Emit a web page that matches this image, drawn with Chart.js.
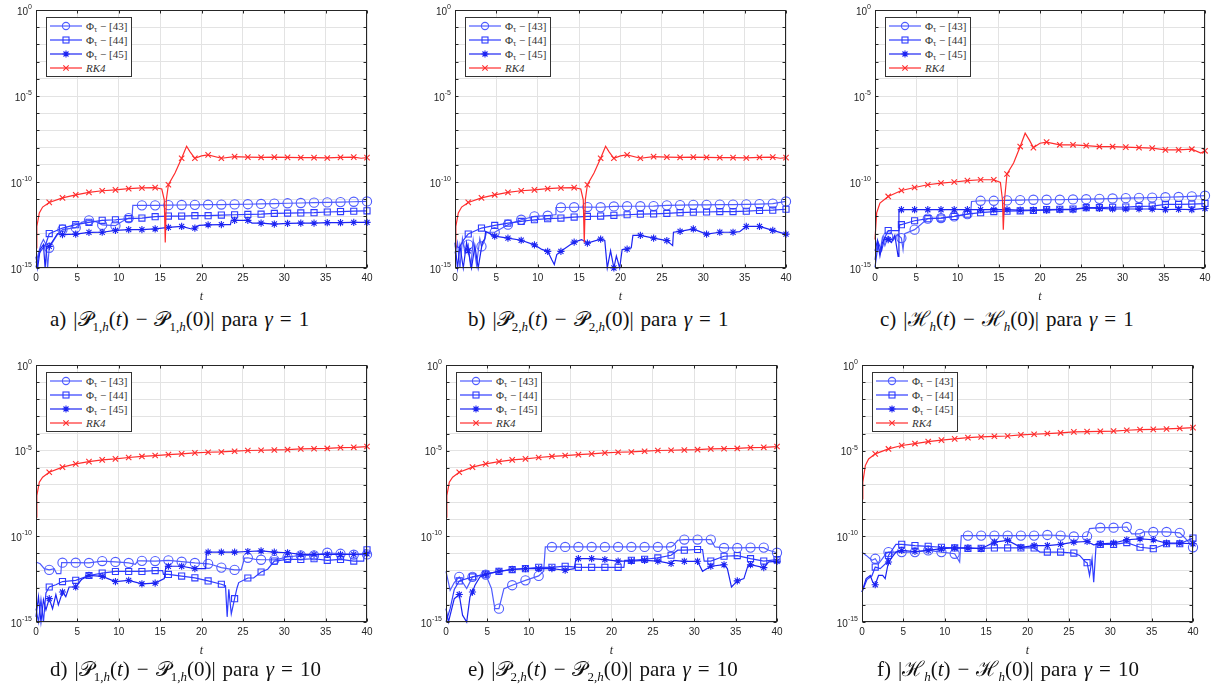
<!DOCTYPE html>
<html lang="es">
<head>
<meta charset="UTF-8">
<title>Errores de invariantes</title>
<script src="https://cdn.jsdelivr.net/npm/chart.js"></script>
<style>
body {
  margin: 0;
  width: 1215px;
  height: 690px;
  position: relative;
  overflow: hidden;
  background: #fff;
  font-family: 'Liberation Sans', Arial, sans-serif;
}
.panel { position: absolute; }
.legend {
  position: absolute;
  border: 1px solid #333;
  background: #fff;
  padding: 1px 4px 1px 2px;
  font-family: 'Liberation Serif', 'DejaVu Serif', serif;
  font-size: 11px;
  color: #333;
}
.legend .row { display: flex; align-items: center; height: 14px; white-space: nowrap; }
.legend svg { margin-right: 3px; }
.legend sub { font-size: 8px; vertical-align: -2px; line-height: 0; }
.caption {
  position: absolute;
  font-family: 'Liberation Serif', 'DejaVu Serif', serif;
  font-size: 21px;
  line-height: 24px;
  white-space: nowrap;
  color: #111;
}
.caption sub { font-size: 13px; line-height: 0; }
.caption .sp { display: inline-block; width: 7px; }
</style>
</head>
<body>

<script>
// ticks
const xTicks = [0, 5, 10, 15, 20, 25, 30, 35, 40];
const yLabelExps = [0, -5, -10, -15];
const markerStep = 1.6;

// ---- gamma = 1 ----
const rk4_P_g1 = [[0,1.45e-14],[0.1,2.6e-13],[0.4,1.6e-12],[0.8,3.5e-12],[1.6,6.5e-12],[3.2,1.2e-11],[4.8,1.8e-11],[6.4,2.5e-11],[8,3.1e-11],[9.6,3.5e-11],[11.2,4.1e-11],[12.8,4.5e-11],[14.4,4.7e-11],[15.2,3.9e-11],[15.5,9.3e-12],[15.62,3e-14],[15.75,9.3e-12],[16,6.9e-11],[16.8,3.3e-10],[17.6,2.4e-9],[18.2,1.2e-8],[18.6,5.9e-9],[19.2,2.4e-9],[20,3.3e-9],[20.8,3.8e-9],[22.4,2.4e-9],[24,3e-9],[25.6,2.8e-9],[27.2,2.7e-9],[28.8,2.8e-9],[30.4,2.7e-9],[32,2.6e-9],[33.6,2.6e-9],[35.2,2.5e-9],[36.8,2.7e-9],[38.4,2.8e-9],[39.3,2.4e-9],[40,2.6e-9]];

const a_phi43 = [[0,2e-15],[0.3,7.4e-15],[0.6,2.3e-14],[0.9,4.5e-14],[1.2,2.3e-14],[1.4,1e-15],[1.6,1.5e-14],[2.2,4.5e-14],[2.6,9e-14],[3.2,1.7e-13],[4.8,2.2e-13],[5.5,4.5e-13],[6.4,5.9e-13],[7.2,5e-13],[8,3.2e-13],[9.6,2.9e-13],[10.4,5.1e-13],[11.2,8e-13],[11.6,8e-13],[11.7,4.4e-12],[12.8,4.4e-12],[14.4,4.4e-12],[16,4.5e-12],[17.6,4.6e-12],[19.2,4.7e-12],[20.8,4.8e-12],[22.4,4.9e-12],[24,5e-12],[25.6,5.1e-12],[27.2,5.3e-12],[28.8,5.5e-12],[30.4,5.8e-12],[32,6e-12],[33.6,6.3e-12],[35.2,6.5e-12],[36.8,6.8e-12],[38.4,7.1e-12],[40,7.4e-12]];
const a_phi44 = [[0,1.1e-15],[0.4,7.4e-15],[0.8,1.4e-14],[1.2,2.6e-14],[1.6,1e-13],[3.2,2.1e-13],[4.8,3.3e-13],[6.4,4.5e-13],[8,5.9e-13],[9.6,6.4e-13],[11.2,7.4e-13],[12.8,8e-13],[14.4,9.6e-13],[16,1.05e-12],[17.6,1.05e-12],[19.2,1.1e-12],[20.8,1.1e-12],[22.4,1.2e-12],[24,1.25e-12],[25.6,1.3e-12],[27.2,1.35e-12],[28.8,1.5e-12],[30.4,1.55e-12],[32,1.6e-12],[33.6,1.65e-12],[35.2,1.8e-12],[36.8,1.9e-12],[38.4,2e-12],[40,2.1e-12]];
const a_phi45 = [[0,4.5e-15],[0.2,1e-15],[0.5,1.2e-14],[0.9,2.3e-14],[1.1,1e-15],[1.3,1.8e-14],[1.6,1.8e-14],[2.2,5e-14],[2.6,1e-13],[3.2,8.7e-14],[4.8,9.3e-14],[6.4,1.17e-13],[8,1.2e-13],[9.6,1.55e-13],[11.2,1.7e-13],[12.8,1.7e-13],[14.4,1.86e-13],[16,2.3e-13],[17.6,2.6e-13],[18.8,1.86e-13],[19.2,2.1e-13],[19.7,3e-13],[20.8,3.2e-13],[22.4,3.3e-13],[23.5,3.3e-13],[23.6,5.9e-13],[24,5.9e-13],[25.6,5.9e-13],[26.1,4.1e-13],[27.2,4.1e-13],[28.8,3.6e-13],[30.4,3.9e-13],[32,4.1e-13],[33.6,4.1e-13],[35.2,4.3e-13],[36.8,4.3e-13],[38.4,4.5e-13],[40,4.5e-13]];

const b_phi43 = [[0,7e-15],[0.3,3e-14],[0.6,1e-15],[0.9,5e-14],[1.2,8e-15],[1.6,2.3e-14],[1.9,1e-15],[2.2,4e-14],[2.6,1.5e-15],[3.0,5e-14],[3.2,1.8e-14],[3.5,3e-14],[3.8,1.2e-13],[4.8,1.2e-13],[6.4,3.3e-13],[8,6.4e-13],[9.6,1e-12],[11.2,1.1e-12],[12.1,1.25e-12],[12.2,3.3e-12],[12.8,3.3e-12],[14.4,3.4e-12],[16,3.5e-12],[17.6,3.4e-12],[19.2,3.8e-12],[20.8,3.9e-12],[22.4,3.9e-12],[24,4e-12],[25.6,4.4e-12],[27.2,4.5e-12],[28.8,4.7e-12],[30.4,4.7e-12],[32,4.9e-12],[33.6,4.9e-12],[35.2,5e-12],[36.8,5.2e-12],[38.4,5.6e-12],[40,7.4e-12]];
const b_phi44 = [[0,2e-14],[0.5,1.5e-14],[1,4e-14],[1.6,9.5e-14],[3.2,2.1e-13],[4.8,3e-13],[6.4,4.1e-13],[8,5.1e-13],[9.6,6.4e-13],[11.2,7.4e-13],[12.8,8e-13],[14.4,9.1e-13],[16,1e-12],[17.6,1.05e-12],[19.2,1.15e-12],[20.8,1.25e-12],[22.4,1.35e-12],[24,1.4e-12],[25.6,1.5e-12],[27.2,1.65e-12],[28.8,1.75e-12],[30.4,1.8e-12],[32,1.9e-12],[33.6,1.9e-12],[35.2,2e-12],[36.8,2.2e-12],[38.4,2.3e-12],[40,2.6e-12]];
const b_phi45 = [[0,3e-14],[0.3,1e-15],[0.6,2e-14],[1.0,1e-15],[1.4,3e-14],[1.6,1e-14],[2.0,1e-15],[2.4,2e-14],[2.8,1e-15],[3.3,3e-14],[3.6,5e-14],[3.7,1.35e-13],[4.8,7.2e-14],[6.4,5.5e-14],[8,4.1e-14],[9.6,2.2e-14],[10.5,1.2e-14],[11.2,9.3e-15],[11.7,3e-15],[12,1.6e-15],[12.3,6e-15],[12.8,9.3e-15],[14.4,3.2e-14],[15.3,4.5e-14],[16,2.8e-14],[17.6,4.8e-14],[18.1,4e-14],[18.4,1e-15],[18.8,1e-14],[19.2,1e-15],[19.5,5e-15],[19.9,1e-15],[20.2,1.2e-14],[20.8,1.26e-14],[21.3,1.5e-14],[21.5,7.9e-14],[22.4,7.9e-14],[24,5.5e-14],[25.6,3.9e-14],[26.3,2e-14],[26.4,1.2e-13],[27.2,1.35e-13],[28.8,1.86e-13],[29.3,1.5e-13],[30.4,9.3e-14],[32,1.2e-13],[33.6,1.2e-13],[34.4,1.3e-13],[35.2,2.6e-13],[36.8,2.6e-13],[38.4,1.55e-13],[40,9.3e-14]];

const rk4_H_g1 = [[0,4.5e-14],[0.2,1.6e-12],[0.6,6e-12],[1.6,1.45e-11],[3.2,3.2e-11],[4.8,4.8e-11],[6.4,6.9e-11],[8,8.7e-11],[9.6,1e-10],[11.2,1.2e-10],[12.8,1.35e-10],[14.4,1.35e-10],[15.2,9.3e-11],[15.45,9.3e-12],[15.55,1.7e-13],[15.7,9.3e-12],[16,2.9e-10],[16.8,1.26e-9],[17.6,1.15e-8],[18.2,6.9e-8],[18.7,2.8e-8],[19.2,1e-8],[20,1.8e-8],[20.8,2.1e-8],[22.4,1.45e-8],[24,1.45e-8],[25.6,1.3e-8],[27.2,1.15e-8],[28.8,1.15e-8],[30.4,1.07e-8],[32,1e-8],[33.6,9.3e-9],[35.2,7.4e-9],[36.8,7.4e-9],[38.4,8.1e-9],[39.5,4.8e-9],[40,6.5e-9]];
const c_phi43 = [[0,3e-15],[0.3,3e-14],[0.6,8e-15],[0.9,6e-14],[1.2,2e-14],[1.6,6.9e-14],[2.2,4e-14],[2.7,9e-14],[3.2,5.5e-14],[3.4,1.2e-14],[3.6,1e-13],[4.8,1.7e-13],[6.4,7.4e-13],[8,8e-13],[9.6,1e-12],[11.2,1.35e-12],[11.6,1.6e-12],[11.7,7.4e-12],[12.8,8.1e-12],[14.4,8.1e-12],[16,8.5e-12],[17.6,8.8e-12],[19.2,9.3e-12],[20.8,9.3e-12],[22.4,9.3e-12],[24,9.7e-12],[25.6,1e-11],[27.2,1.05e-11],[28.8,1.1e-11],[30.4,1.15e-11],[32,1.2e-11],[33.6,1.25e-11],[35.2,1.3e-11],[36.8,1.35e-11],[38.4,1.45e-11],[40,1.6e-11]];
const c_phi44 = [[0,1.1e-15],[0.4,3e-14],[0.8,1e-14],[1.2,6e-14],[1.6,1.5e-13],[2.9,1.5e-13],[3.0,3.3e-13],[3.2,3.3e-13],[4.8,5.6e-13],[6.4,7.4e-13],[8,8e-13],[9.6,1e-12],[11.2,1.35e-12],[12.8,1.65e-12],[14.4,1.9e-12],[16,2e-12],[17.6,2.1e-12],[19.2,2.2e-12],[20.8,2.45e-12],[22.4,2.6e-12],[24,2.7e-12],[25.6,3.2e-12],[27.2,3.2e-12],[28.8,3.4e-12],[30.4,3.5e-12],[32,3.8e-12],[33.6,4e-12],[35.2,5e-12],[36.8,5e-12],[38.4,5.2e-12],[40,5.6e-12]];
const c_phi45 = [[0,1e-14],[0.3,4e-14],[0.6,5e-15],[0.9,3e-14],[1.2,6e-14],[1.6,4.5e-14],[2.0,3e-14],[2.4,8e-14],[2.8,4.8e-15],[2.9,2.45e-12],[3.2,2.45e-12],[4.8,2.45e-12],[6.4,2.45e-12],[8,2.45e-12],[9.6,2.45e-12],[11.2,2.45e-12],[12.8,2.45e-12],[14.4,2.45e-12],[16,2.45e-12],[17.6,2.3e-12],[19.2,2.3e-12],[20.8,2.3e-12],[22.4,2.45e-12],[24,2.45e-12],[25.6,3.1e-12],[27.2,2.9e-12],[28.8,2.7e-12],[30.4,2.7e-12],[32,2.7e-12],[33.6,2.7e-12],[35.2,2.45e-12],[36.8,2.6e-12],[38.4,2.45e-12],[40,2.9e-12]];

// ---- gamma = 10 ----
const rk4_P_g10 = [[0,1.3e-9],[0.1,2.4e-8],[0.4,1.45e-7],[0.8,2.8e-7],[1.6,5.5e-7],[3.2,1.1e-6],[4.8,1.7e-6],[6.4,2.3e-6],[8,2.9e-6],[9.6,3.3e-6],[11.2,4e-6],[12.8,4.6e-6],[14.4,5.2e-6],[16,5.9e-6],[17.6,6.5e-6],[19.2,7.4e-6],[20.8,8.1e-6],[22.4,8.4e-6],[24,9.3e-6],[25.6,1.02e-5],[27.2,1.06e-5],[28.8,1.1e-5],[30.4,1.14e-5],[32,1.26e-5],[33.6,1.3e-5],[35.2,1.35e-5],[36.8,1.5e-5],[38.4,1.57e-5],[40,1.74e-5]];

const d_phi43 = [[0,3.2e-12],[0.5,2.5e-12],[1,1.3e-12],[1.6,1.1e-12],[2.2,1.3e-12],[2.5,6.6e-13],[3.0,6.6e-13],[3.1,2.9e-12],[3.2,2.9e-12],[4.8,2.9e-12],[6.4,2.8e-12],[8,3.6e-12],[9.6,3.2e-12],[11.2,2.8e-12],[12,2.3e-12],[12.3,3.7e-12],[12.8,3.7e-12],[14.4,3.6e-12],[16,4e-12],[17.6,3.3e-12],[19.2,2.8e-12],[20.8,2.5e-12],[21.3,2.2e-12],[22.4,1.5e-12],[24,1.1e-12],[24.8,1.1e-12],[25.2,5.4e-12],[25.6,5.6e-12],[26.5,4.5e-12],[27.2,4.3e-12],[28.1,4.3e-12],[28.8,4.2e-12],[30.4,6.2e-12],[32,7.7e-12],[33.6,7.7e-12],[35.2,1.1e-11],[36.8,9.6e-12],[38.4,8.5e-12],[40,8.8e-12]];
const d_phi44 = [[0,6e-15],[0.3,1e-15],[0.6,2e-14],[0.9,1e-15],[1.2,5e-14],[1.6,1.1e-13],[2.4,1.5e-13],[3.2,2.3e-13],[4.8,2.7e-13],[6.4,5.2e-13],[8,7.2e-13],[9.6,8.9e-13],[11.2,8.9e-13],[12.8,8.9e-13],[14.4,1e-12],[15.3,1e-12],[15.4,6e-13],[16,6e-13],[17.6,4.8e-13],[19.2,3.8e-13],[20.8,2.5e-13],[22.4,1.6e-13],[22.9,1.3e-13],[23.1,2e-15],[23.3,8e-14],[23.6,3e-15],[24,2.3e-14],[24.3,1e-13],[24.5,2e-13],[25.6,3.7e-13],[26.3,3.7e-13],[27.2,8.3e-13],[28,1.2e-12],[28.8,3.6e-12],[30.4,4.5e-12],[32,4.5e-12],[33.6,4.9e-12],[35.2,4e-12],[36.8,4.5e-12],[38.4,3.6e-12],[39.6,3.6e-12],[39.7,1.65e-11],[40,1.65e-11]];
const d_phi45 = [[0,2e-15],[0.3,3e-14],[0.6,1e-15],[0.9,2e-14],[1.2,5e-15],[1.6,2.3e-14],[2.0,6e-15],[2.4,4e-14],[2.7,1e-14],[3.2,5.6e-14],[3.6,3e-14],[4.0,1.1e-13],[4.8,1.1e-13],[5.5,3e-13],[6.4,5.2e-13],[8,4.6e-13],[9.6,2.3e-13],[11.2,2.7e-13],[12.8,1.7e-13],[14.4,1.85e-13],[15.5,3.4e-13],[15.7,1.8e-12],[16,1.8e-12],[17.6,1.8e-12],[19.2,1.3e-12],[20.5,1.3e-12],[20.6,1.2e-11],[20.8,1.2e-11],[22.4,1.2e-11],[24,1.2e-11],[25.6,1.3e-11],[27.2,1.4e-11],[28.8,1.2e-11],[30.4,1.1e-11],[32,8.8e-12],[33.6,8.8e-12],[35.2,8.8e-12],[36.8,8.8e-12],[38.4,8.8e-12],[40,9.6e-12]];

const e_phi43 = [[0,9.1e-13],[0.5,7.1e-14],[1,2e-13],[1.6,4.3e-13],[2.5,8.9e-14],[3.2,4.3e-13],[4.8,5.9e-13],[5.5,8.9e-14],[5.9,6e-15],[6.4,6e-15],[7,8.9e-14],[8,1.4e-13],[9.6,2.7e-13],[11.2,4.9e-13],[11.8,9.1e-13],[12,2.4e-11],[12.8,2.4e-11],[14.4,2.4e-11],[16,2.4e-11],[17.6,2.4e-11],[19.2,2.4e-11],[20.8,2.4e-11],[22.4,2.4e-11],[24,2.4e-11],[25.6,2.4e-11],[27.2,2.4e-11],[27.5,3e-11],[28,5.9e-11],[28.8,6.5e-11],[30.4,6.5e-11],[32,6.5e-11],[32.5,2.4e-11],[33.6,2.1e-11],[35.2,2.1e-11],[36.8,2.2e-11],[38.4,2.2e-11],[39,1.55e-11],[40,1.1e-11]];
const e_phi44 = [[0,1e-15],[0.5,6e-15],[1,8e-14],[1.6,2.5e-13],[3.2,4.3e-13],[4.8,6.2e-13],[6.4,9.1e-13],[8,1.15e-12],[9.6,1.3e-12],[11.2,1.55e-12],[12.8,1.55e-12],[14.4,1.8e-12],[16,1.55e-12],[17.6,1.55e-12],[19.2,1.55e-12],[20.8,1.55e-12],[21.5,1.55e-12],[21.6,4e-12],[22.4,4e-12],[24,4.6e-12],[25.6,5.5e-12],[27.2,7.9e-12],[28,1.55e-11],[28.8,1.55e-11],[30.4,1.7e-11],[31,1.7e-11],[31.2,3.6e-12],[32,3.6e-12],[33.6,6.9e-12],[35.2,7.5e-12],[36.8,5e-12],[38.4,3.6e-12],[40,4.4e-12]];
const e_phi45 = [[0,6e-15],[0.3,1e-15],[1,2.3e-14],[1.6,4e-14],[2,2.5e-15],[2.5,1e-15],[2.9,3e-14],[3.2,5.6e-14],[3.5,1.4e-13],[4.1,4.3e-13],[4.8,6.2e-13],[6.4,9.1e-13],[8,1.2e-12],[9.6,1.3e-12],[11.2,1.3e-12],[12.8,1.3e-12],[14.4,1.05e-12],[15.5,1.3e-12],[15.7,5e-12],[16,5e-12],[17.6,5e-12],[19.2,4.4e-12],[20.8,3.6e-12],[22.4,3.6e-12],[24,4e-12],[25.6,3.6e-12],[27.2,2.6e-12],[27.5,4e-12],[28.8,3.5e-12],[30.4,3.5e-12],[31,9.1e-13],[32,1.8e-12],[33.6,2.2e-12],[34,1.3e-12],[34.5,1.1e-13],[35.2,2.5e-13],[36,3.4e-13],[36.5,2e-12],[36.8,2.2e-12],[38.4,1.5e-12],[39,3.2e-12],[40,3.5e-12]];

const rk4_H_g10 = [[0,1.55e-8],[0.1,1.45e-7],[0.4,1.35e-6],[0.8,3.3e-6],[1.6,6.5e-6],[3.2,1.26e-5],[4.8,2e-5],[6.4,2.6e-5],[8,3.4e-5],[9.6,4.1e-5],[11.2,4.9e-5],[12.8,5.8e-5],[14.4,6.3e-5],[16,6.9e-5],[17.6,7.2e-5],[19.2,8.3e-5],[20.8,9.1e-5],[22.4,1e-4],[24,1.1e-4],[25.6,1.25e-4],[27.2,1.3e-4],[28.8,1.35e-4],[30.4,1.4e-4],[32,1.55e-4],[33.6,1.7e-4],[35.2,1.75e-4],[36.8,1.85e-4],[38.4,2e-4],[40,2.2e-4]];
const f_phi43 = [[0,1.2e-11],[0.5,7.7e-12],[1.2,4e-12],[1.6,4.9e-12],[2,2.5e-12],[2.9,9.6e-12],[3.2,1.2e-11],[4.8,1.2e-11],[6.4,1.2e-11],[8,1.5e-11],[9.6,1.2e-11],[11.2,9.6e-12],[11.8,3.2e-12],[12,1.1e-10],[12.8,1.1e-10],[14.4,1.1e-10],[16,1.1e-10],[17.6,1.1e-10],[19.2,1.1e-10],[20.8,1.1e-10],[22.4,1.2e-10],[24,1.1e-10],[25.6,9.8e-11],[27.2,1e-10],[27.5,2.8e-10],[28.8,3.2e-10],[30.4,3.2e-10],[32,3.5e-10],[32.6,1.4e-10],[33.6,1.4e-10],[34,1.8e-10],[35.2,1.8e-10],[36.8,1.8e-10],[38.4,1.6e-10],[39,8.3e-11],[40,2.3e-11]];
const f_phi44 = [[0,5.6e-14],[0.6,3e-13],[1.2,5e-13],[1.6,1.6e-12],[2.2,1.3e-12],[3.0,3e-12],[3.2,7.7e-12],[4.1,3.4e-11],[4.8,3.4e-11],[6.4,2.9e-11],[8,2.6e-11],[9.6,2.3e-11],[11.2,2.1e-11],[12.8,2e-11],[14.4,2e-11],[16,2.1e-11],[17.6,2.1e-11],[19.2,2.1e-11],[20.8,2.1e-11],[21.5,1.2e-11],[22.4,1.2e-11],[24,1.2e-11],[25.6,1.05e-11],[26.3,7.7e-12],[27,3.2e-12],[27.2,2.9e-12],[27.5,5.2e-13],[27.8,4.9e-12],[28,2.1e-13],[28.3,3.7e-11],[28.8,3.4e-11],[30.4,3.4e-11],[32,4.3e-11],[33.6,2.3e-11],[35.2,1.9e-11],[36.8,3.7e-11],[38.4,3.7e-11],[40,7.9e-11]];
const f_phi45 = [[0,5.6e-14],[0.5,3.4e-13],[1,5.2e-13],[1.3,2.1e-13],[1.6,1.5e-13],[2,5.2e-13],[2.5,5.2e-13],[2.8,3.4e-13],[3.2,3.2e-12],[4.1,1.2e-11],[4.8,1.5e-11],[6.4,1.3e-11],[8,1.5e-11],[9.6,1.9e-11],[11.2,2.1e-11],[12.8,2.1e-11],[14.4,1.9e-11],[16,4.6e-11],[17.6,5.8e-11],[19.2,2.3e-11],[20.8,2.9e-11],[22.4,2.9e-11],[24,3.4e-11],[25.6,4.6e-11],[27.2,5e-11],[28,3.2e-11],[28.8,3.7e-11],[30.4,4e-11],[32,6.3e-11],[33.6,7.2e-11],[35.2,6.3e-11],[36.8,4e-11],[38.4,4e-11],[40,3.7e-11]];

const seriesLabels = ['Φ<sub>τ</sub> − [43]', 'Φ<sub>τ</sub> − [44]', 'Φ<sub>τ</sub> − [45]', '<i>RK4</i>'];
const seriesNames = ['Φτ − [43]', 'Φτ − [44]', 'Φτ − [45]', 'RK4'];
const seriesStyles = [
  { color: '#4f5cff', pointStyle: 'circle', radius: 4.6 },
  { color: '#2f3cff', pointStyle: 'rect', radius: 4.3 },
  { color: '#1c24f2', pointStyle: 'star', radius: 3.6 },
  { color: '#ff2d2d', pointStyle: 'crossRot', radius: 3.8 }
];

const S = '<span class="sp"></span>';
const captions = [
  `a)${S}|𝒫<sub>1,<i>h</i></sub>(<i>t</i>)${S}−${S}𝒫<sub>1,<i>h</i></sub>(0)|${S}para${S}<i>γ</i>${S}=${S}1`,
  `b)${S}|𝒫<sub>2,<i>h</i></sub>(<i>t</i>)${S}−${S}𝒫<sub>2,<i>h</i></sub>(0)|${S}para${S}<i>γ</i>${S}=${S}1`,
  `c)${S}|ℋ<sub><i>h</i></sub>(<i>t</i>)${S}−${S}ℋ<sub><i>h</i></sub>(0)|${S}para${S}<i>γ</i>${S}=${S}1`,
  `d)${S}|𝒫<sub>1,<i>h</i></sub>(<i>t</i>)${S}−${S}𝒫<sub>1,<i>h</i></sub>(0)|${S}para${S}<i>γ</i>${S}=${S}10`,
  `e)${S}|𝒫<sub>2,<i>h</i></sub>(<i>t</i>)${S}−${S}𝒫<sub>2,<i>h</i></sub>(0)|${S}para${S}<i>γ</i>${S}=${S}10`,
  `f)${S}|ℋ<sub><i>h</i></sub>(<i>t</i>)${S}−${S}ℋ<sub><i>h</i></sub>(0)|${S}para${S}<i>γ</i>${S}=${S}10`
];

// plot rectangles [left, top, right, bottom] and caption left/top
const panels = [
  { rect: [36, 10, 367, 268],  cap: [50, 307],  data: [a_phi43, a_phi44, a_phi45, rk4_P_g1] },
  { rect: [455, 10, 786, 268], cap: [468, 307], data: [b_phi43, b_phi44, b_phi45, rk4_P_g1] },
  { rect: [875, 10, 1205, 268], cap: [880, 307], data: [c_phi43, c_phi44, c_phi45, rk4_H_g1] },
  { rect: [36, 365, 367, 622],  cap: [50, 657],  data: [d_phi43, d_phi44, d_phi45, rk4_P_g10] },
  { rect: [446, 365, 777, 622], cap: [468, 657], data: [e_phi43, e_phi44, e_phi45, rk4_P_g10] },
  { rect: [862, 365, 1193, 622], cap: [877, 657], data: [f_phi43, f_phi44, f_phi45, rk4_H_g10] }
];

const PAD_L = 40, PAD_T = 10, PAD_R = 10, PAD_B = 36;

function isMarker(x) {
  const k = x / markerStep;
  return x > 0 && Math.abs(k - Math.round(k)) < 1e-6;
}

function legendIcon(style) {
  const c = style.color;
  let m = '';
  if (style.pointStyle === 'circle') m = `<circle cx="17" cy="6" r="3.6" fill="none" stroke="${c}" stroke-width="1.1"/>`;
  else if (style.pointStyle === 'rect') m = `<rect x="14" y="3" width="6" height="6" fill="none" stroke="${c}" stroke-width="1.1"/>`;
  else if (style.pointStyle === 'star') m = `<path d="M13.5 6H20.5M17 2.5V9.5M14.5 3.5L19.5 8.5M19.5 3.5L14.5 8.5" stroke="${c}" stroke-width="1.1"/>`;
  else m = `<path d="M14.3 3.3L19.7 8.7M19.7 3.3L14.3 8.7" stroke="${c}" stroke-width="1.1"/>`;
  return `<svg width="34" height="12"><line x1="1" y1="6" x2="33" y2="6" stroke="${c}" stroke-width="1.2"/>${m}</svg>`;
}

const framePlugin = {
  id: 'frame',
  afterDraw(chart) {
    const { ctx, chartArea: ca, scales } = chart;
    const l = Math.round(ca.left) + 0.5, r = Math.round(ca.right) - 0.5;
    const t = Math.round(ca.top) + 0.5, b = Math.round(ca.bottom) - 0.5;
    ctx.save();
    ctx.strokeStyle = '#262626';
    ctx.lineWidth = 1;
    ctx.strokeRect(l, t, r - l, b - t);
    ctx.beginPath();
    xTicks.forEach(v => {
      const px = Math.round(scales.x.getPixelForValue(v)) + 0.5;
      ctx.moveTo(px, b); ctx.lineTo(px, b - 3);
      ctx.moveTo(px, t); ctx.lineTo(px, t + 3);
    });
    for (let k = 0; k <= 15; k++) {
      const py = Math.round(scales.y.getPixelForValue(Math.pow(10, -k))) + 0.5;
      ctx.moveTo(l, py); ctx.lineTo(l + 3, py);
      ctx.moveTo(r, py); ctx.lineTo(r - 3, py);
    }
    ctx.stroke();
    // y labels 10^e
    ctx.fillStyle = '#262626';
    yLabelExps.forEach(e => {
      const py = scales.y.getPixelForValue(Math.pow(10, e));
      ctx.font = '10px "Liberation Sans", Arial, sans-serif';
      const w10 = ctx.measureText('10').width;
      ctx.font = '7px "Liberation Sans", Arial, sans-serif';
      const ws = ctx.measureText(String(e)).width;
      const x0 = ca.left - 4 - w10 - ws;
      ctx.textBaseline = 'middle';
      ctx.textAlign = 'left';
      ctx.font = '10px "Liberation Sans", Arial, sans-serif';
      ctx.fillText('10', x0, py + 2);
      ctx.font = '7px "Liberation Sans", Arial, sans-serif';
      ctx.fillText(String(e), x0 + w10, py - 3);
    });
    ctx.restore();
  }
};

panels.forEach((p, idx) => {
  const [L, T, R, B] = p.rect;
  const W = (R - L) + PAD_L + PAD_R;
  const H = (B - T) + PAD_T + PAD_B;

  const wrap = document.createElement('div');
  wrap.className = 'panel';
  wrap.style.left = (L - PAD_L) + 'px';
  wrap.style.top = (T - PAD_T) + 'px';
  wrap.style.width = W + 'px';
  wrap.style.height = H + 'px';
  const canvas = document.createElement('canvas');
  canvas.width = W;
  canvas.height = H;
  wrap.appendChild(canvas);
  document.body.appendChild(wrap);

  // legend
  const lg = document.createElement('div');
  lg.className = 'legend';
  lg.style.left = (L + 10) + 'px';
  lg.style.top = (T + 7) + 'px';
  lg.innerHTML = seriesStyles.map((s, i) =>
    `<div class="row">${legendIcon(s)}<span>${seriesLabels[i]}</span></div>`).join('');
  document.body.appendChild(lg);

  // caption
  const cap = document.createElement('div');
  cap.className = 'caption';
  cap.style.left = p.cap[0] + 'px';
  cap.style.top = p.cap[1] + 'px';
  cap.innerHTML = captions[idx];
  document.body.appendChild(cap);

  const datasets = p.data.map((arr, i) => {
    const s = seriesStyles[i];
    return {
      label: seriesNames[i],
      data: arr.map(d => ({ x: d[0], y: d[1] })),
      borderColor: s.color,
      backgroundColor: 'transparent',
      borderWidth: 1.2,
      tension: 0,
      pointStyle: s.pointStyle,
      pointRadius: ctx => (ctx.raw && isMarker(ctx.raw.x)) ? s.radius : 0,
      pointBorderWidth: 1.1,
      pointBorderColor: s.color,
      pointBackgroundColor: 'transparent',
      pointHoverRadius: 0,
      clip: 8
    };
  }).reverse();

  new Chart(canvas.getContext('2d'), {
    type: 'line',
    data: { datasets },
    options: {
      responsive: false,
      animation: false,
      devicePixelRatio: 1,
      events: [],
      layout: { padding: { left: 0, top: PAD_T, right: PAD_R, bottom: 0 } },
      plugins: { legend: { display: false }, tooltip: { enabled: false } },
      scales: {
        x: {
          type: 'linear',
          min: 0,
          max: 40,
          afterBuildTicks: s => { s.ticks = xTicks.map(v => ({ value: v })); },
          afterFit: s => { s.height = PAD_B; },
          grid: { color: '#e3e3e3', drawTicks: false },
          border: { display: false },
          ticks: {
            autoSkip: false,
            maxRotation: 0,
            padding: 4,
            color: '#262626',
            font: { size: 10, family: 'Liberation Sans' }
          },
          title: {
            display: true,
            text: 't',
            color: '#262626',
            padding: { top: 1, bottom: 0 },
            font: { size: 12, style: 'italic', family: 'Liberation Serif' }
          }
        },
        y: {
          type: 'logarithmic',
          min: 1e-15,
          max: 1,
          afterBuildTicks: s => {
            const t = [];
            for (let k = 0; k <= 15; k++) t.push({ value: Math.pow(10, -k) });
            s.ticks = t;
          },
          afterFit: s => { s.width = PAD_L; },
          grid: { color: '#e3e3e3', drawTicks: false },
          border: { display: false },
          ticks: { display: false }
        }
      }
    },
    plugins: [framePlugin]
  });
});
</script>
</body>
</html>
